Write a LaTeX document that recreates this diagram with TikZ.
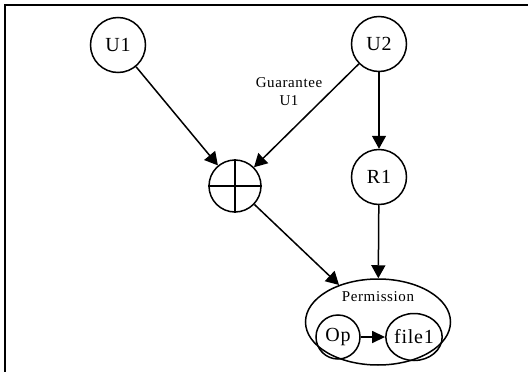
\documentclass[tikz,border=0pt]{standalone}
\usepackage{fontspec}
\setmainfont{Liberation Serif}[LetterSpace=4]
\usetikzlibrary{arrows.meta,shapes,positioning}
\tikzset{
	state/.style={
		draw,circle,line width=1.5pt,inner sep=0pt,minimum size=55pt,
		font=\fontsize{20}{22}\selectfont},
	inner/.style={
		draw,line width=1.5pt,inner sep=0pt,
		font=\fontsize{20}{22}\selectfont},
	lbl/.style={align=center,font=\fontsize{15}{18}\selectfont},
	flow/.style={line width=1.5pt,-{Triangle[length=13pt,width=14pt]}}
}

\begin{document}
\begin{tikzpicture}[x=1pt,y=-1pt]
			\useasboundingbox (0,0) rectangle (528,372);
			% frame edges left by the scan
			\draw[line width=1.5pt] (5,372) -- (5,5) -- (528,5);
			\node[state] (u1) at (118,45) {U1};
			\node[state] (u2) at (379,44) {U2};
			\node[state] (r1) at (379,177) {R1};
			\node[state,minimum size=52pt] (plus) at (235,186) {};
			\draw[line width=1.5pt] (plus.north) -- (plus.south) (plus.west) -- (plus.east);
			% permission with its operation and object
			\node[draw,ellipse,line width=1.5pt,minimum width=145pt,minimum height=86pt] (perm) at (378,322) {};
			\node[lbl] (permlbl) at (378,297) {Permission};
			\node[inner,circle,minimum size=44pt] (op) at (338,337) {Op};
			\node[inner,ellipse,minimum width=55pt,minimum height=47pt] (file) at (414,337) {file1};
			\node[lbl] (guar) at (289,92) {Guarantee\\U1};
			\draw[flow] (u1) -- (plus);
			\draw[flow] (u2) -- (plus);
			\draw[flow] (u2) -- (r1);
			\draw[flow] (plus) -- (perm);
			\draw[flow] (r1) -- (perm);
			\draw[flow,-{Triangle[length=13pt,width=12pt]}] (op) -- (file);
\end{tikzpicture}
\end{document}
